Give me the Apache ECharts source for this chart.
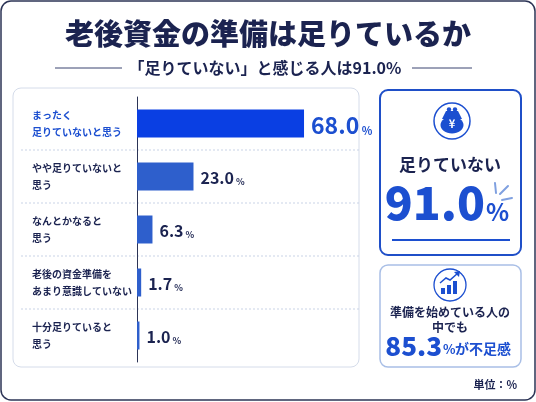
<!DOCTYPE html>
<html>
<head>
<meta charset="utf-8">
<script src="https://cdn.jsdelivr.net/npm/echarts@6/dist/echarts.min.js"></script>
<style>
  html, body { margin: 0; padding: 0; background: #fff; }
  #main { width: 536px; height: 402px; }
</style>
</head>
<body>
<div id="main"></div>
<script>
// 回答項目と割合（%）
var categories = [
  'まったく\n足りていないと思う',
  'やや足りていないと\n思う',
  'なんとかなると\n思う',
  '老後の資金準備を\nあまり意識していない',
  '十分足りていると\n思う'
];
var values = [68.0, 23.0, 6.3, 1.7, 1.0];
var barColors = ['#0a3fe3', '#2e5fcc', '#2e5fcc', '#2e5fcc', '#2e5fcc'];

// 右側の数字
var shortTotal = 91.0;     // 足りていない
var shortStarted = 85.3;   // 準備を始めている人の中でも

var NAVY = '#1b2350';
var BLUE = '#1c4fd0';
var FONT = '"Noto Sans CJK JP", "Noto Sans", sans-serif';

var chart = echarts.init(document.getElementById('main'));

var barData = values.map(function (v, i) {
  return { value: v, itemStyle: { color: barColors[i] } };
});

function txt(text, x, y, size, color, align, vAlign, weight) {
  return {
    type: 'text',
    style: {
      text: text, x: x, y: y,
      fontSize: size, fontWeight: weight || 'bold', fontFamily: FONT,
      fill: color, align: align || 'center', verticalAlign: vAlign || 'middle'
    }
  };
}

var graphics = [
  // 外枠
  { type: 'rect', shape: { x: 1, y: 1, width: 534, height: 399, r: 10 },
    style: { fill: 'none', stroke: '#2c3456', lineWidth: 1.5 } },
  // タイトル
  txt('老後資金の準備は足りているか', 268, 34, 29, NAVY, 'center', 'middle', 900),
  txt('「足りていない」と感じる人は' + shortTotal.toFixed(1) + '%', 265, 68, 16, NAVY),
  { type: 'line', shape: { x1: 55, y1: 68, x2: 122, y2: 68 }, style: { stroke: '#3a4570', lineWidth: 1 } },
  { type: 'line', shape: { x1: 412, y1: 68, x2: 472, y2: 68 }, style: { stroke: '#3a4570', lineWidth: 1 } },
  // 左パネル
  { type: 'rect', shape: { x: 13, y: 88, width: 346, height: 279, r: 8 },
    style: { fill: 'none', stroke: '#d5dcea', lineWidth: 1 } },
  // 右パネル1
  { type: 'rect', shape: { x: 380, y: 90, width: 141, height: 165, r: 8 },
    style: { fill: 'none', stroke: '#1f4fc8', lineWidth: 2 } },
  { type: 'circle', shape: { cx: 452, cy: 121, r: 18 }, style: { fill: 'none', stroke: BLUE, lineWidth: 1.5 } },
  { type: 'polygon', shape: { points: [[446, 111], [458, 111], [462, 119], [442, 119]] }, style: { fill: BLUE } },
  { type: 'ellipse', shape: { cx: 452, cy: 125, rx: 11.5, ry: 8.5 }, style: { fill: BLUE } },
  { type: 'circle', shape: { cx: 449, cy: 109.5, r: 2.2 }, style: { fill: BLUE } },
  { type: 'circle', shape: { cx: 455, cy: 109.5, r: 2.2 }, style: { fill: BLUE } },
  txt('¥', 452, 124, 11, '#fff'),
  txt('足りていない', 450, 165, 17, NAVY),
  txt(shortTotal.toFixed(1), 485, 226, 46, BLUE, 'right', 'bottom', 900),
  txt('%', 486, 224, 24, BLUE, 'left', 'bottom'),
  { type: 'line', shape: { x1: 495, y1: 183, x2: 496, y2: 193 }, style: { stroke: '#7fa0e0', lineWidth: 2, lineCap: 'round' } },
  { type: 'line', shape: { x1: 500, y1: 194, x2: 508, y2: 186 }, style: { stroke: '#7fa0e0', lineWidth: 2, lineCap: 'round' } },
  { type: 'line', shape: { x1: 502, y1: 200, x2: 512, y2: 198 }, style: { stroke: '#7fa0e0', lineWidth: 2, lineCap: 'round' } },
  { type: 'line', shape: { x1: 392, y1: 240, x2: 510, y2: 240 }, style: { stroke: BLUE, lineWidth: 2 } },
  // 右パネル2
  { type: 'rect', shape: { x: 380, y: 265, width: 141, height: 102, r: 8 },
    style: { fill: 'none', stroke: '#a9bfe6', lineWidth: 1.5 } },
  { type: 'circle', shape: { cx: 450, cy: 285, r: 16 }, style: { fill: 'none', stroke: BLUE, lineWidth: 1.3 } },
  { type: 'rect', shape: { x: 441, y: 288, width: 4, height: 6 }, style: { fill: BLUE } },
  { type: 'rect', shape: { x: 447, y: 285, width: 4, height: 9 }, style: { fill: BLUE } },
  { type: 'rect', shape: { x: 453, y: 281, width: 4, height: 13 }, style: { fill: BLUE } },
  { type: 'polyline', shape: { points: [[440, 283], [446, 278], [450, 280], [458, 273]] },
    style: { fill: 'none', stroke: BLUE, lineWidth: 1.5 } },
  { type: 'polygon', shape: { points: [[460, 271], [454, 272], [459, 277]] }, style: { fill: BLUE } },
  txt('準備を始めている人の', 450, 312, 12, NAVY),
  txt('中でも', 450, 327, 12, NAVY),
  txt(shortStarted.toFixed(1), 442, 359, 26, BLUE, 'right', 'bottom', 900),
  txt('%', 443, 356, 13, BLUE, 'left', 'bottom'),
  txt('が不足感', 455, 356, 14, BLUE, 'left', 'bottom'),
  // 単位
  txt('単位：%', 517, 385, 11, NAVY, 'right', 'middle', 'bold')
];

// 行の区切り（点線）
[150, 203, 256, 309].forEach(function (y) {
  graphics.push({ type: 'line', shape: { x1: 21, y1: y, x2: 360, y2: y },
    style: { stroke: '#c9d3e6', lineWidth: 1, lineDash: [2, 2] } });
});

var option = {
  backgroundColor: '#ffffff',
  textStyle: { fontFamily: FONT },
  animation: false,
  graphic: graphics,
  grid: { left: 137, top: 97, width: 196.5, height: 265, containLabel: false },
  xAxis: {
    type: 'value', min: 0, max: 80,
    axisLine: { show: false }, axisTick: { show: false },
    axisLabel: { show: false }, splitLine: { show: false }
  },
  yAxis: {
    type: 'category',
    inverse: true,
    data: categories,
    axisLine: { show: true, lineStyle: { color: '#2c3456', width: 1 } },
    axisTick: { show: false },
    splitLine: { show: false },
    axisLabel: {
      align: 'left',
      margin: 105,
      formatter: function (v, i) {
        return i === 0 ? '{hl|' + v + '}' : '{n|' + v + '}';
      },
      rich: {
        hl: { fontSize: 10, fontWeight: 'bold', color: BLUE, lineHeight: 17, fontFamily: FONT },
        n: { fontSize: 10, fontWeight: 'bold', color: NAVY, lineHeight: 17, fontFamily: FONT }
      }
    }
  },
  series: [{
    type: 'bar',
    data: barData,
    barWidth: 28,
    label: {
      show: true,
      position: 'right',
      distance: 7,
      formatter: function (p) {
        var s = p.value.toFixed(1);
        return p.dataIndex === 0 ? '{big|' + s + '}{bigp| %}' : '{v|' + s + '}{p| %}';
      },
      rich: {
        big: { fontSize: 23, fontWeight: 'bold', color: BLUE, fontFamily: FONT, verticalAlign: 'bottom', lineHeight: 26 },
        bigp: { fontSize: 11, fontWeight: 'bold', color: BLUE, fontFamily: FONT, verticalAlign: 'bottom', lineHeight: 19 },
        v: { fontSize: 16, fontWeight: 'bold', color: NAVY, fontFamily: FONT, verticalAlign: 'bottom', lineHeight: 19 },
        p: { fontSize: 9, fontWeight: 'bold', color: NAVY, fontFamily: FONT, verticalAlign: 'bottom', lineHeight: 14 }
      }
    }
  }]
};

chart.setOption(option);
</script>
</body>
</html>
